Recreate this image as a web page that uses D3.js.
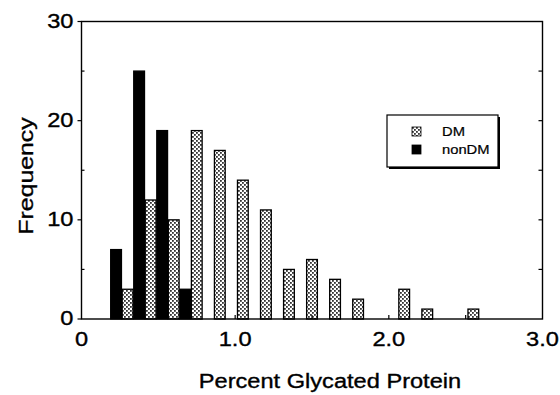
<!DOCTYPE html>
<html>
<head>
<meta charset="utf-8">
<script src="https://cdn.jsdelivr.net/npm/d3@7"></script>
<style>
    body { margin: 0; background: #fff; }
    text { font-family: "Liberation Sans", Arial, Helvetica, sans-serif; fill: #000; stroke: #000; stroke-width: 0.35; }
    .frame { fill: none; stroke: #000; stroke-width: 1.4; }
    .tick { stroke: #000; stroke-width: 1.2; }
    .bar { stroke: #000; stroke-width: 1.3; }
</style>
</head>
<body>
<script>
//histogram of percent glycated protein, DM vs nonDM
(function (){

    //bin centers (DM bar position), nonDM bar sits half a bin to the left
    var binCenters = [0.30, 0.45, 0.60, 0.75, 0.90, 1.05, 1.20, 1.35, 1.50, 1.65, 1.80, 1.95, 2.10, 2.25, 2.40, 2.55];
    var dmCounts = [3, 12, 10, 19, 17, 14, 11, 5, 6, 4, 2, 0, 3, 1, 0, 1];
    var nonDmCounts = [7, 25, 19, 3, 0, 0, 0, 0, 0, 0, 0, 0, 0, 0, 0, 0];

    var xTickValues = [0, 1.0, 2.0, 3.0];
    var xTickLabels = ["0", "1.0", "2.0", "3.0"];
    var xMinorTicks = [0.5, 1.0, 1.5, 2.0, 2.5];
    var yTickValues = [0, 10, 20, 30];
    var yMinorTicks = [5, 15, 25];
    var legendNames = ["DM", "nonDM"];

    var width = 560,
        height = 395;

    var left = 81.5, right = 542.5, top = 21.5, bottom = 319;

    //the scanned lettering is a bit wider than the installed fonts
    var stretch = 1.18;

    var svg = d3.select("body")
        .append("svg")
        .attr("width", width)
        .attr("height", height);

    //stipple fill for the DM bars
    var defs = svg.append("defs");
    var pat = defs.append("pattern")
        .attr("id", "stipple")
        .attr("patternUnits", "userSpaceOnUse")
        .attr("width", 4)
        .attr("height", 4);
    pat.append("rect").attr("width", 4).attr("height", 4).attr("fill", "#fff");
    pat.append("rect").attr("x", 0).attr("y", 0).attr("width", 1.8).attr("height", 1.8).attr("fill", "#333");
    pat.append("rect").attr("x", 2).attr("y", 2).attr("width", 1.8).attr("height", 1.8).attr("fill", "#333");

    var x = d3.scaleLinear().domain([0, 3]).range([left, right]);
    var y = d3.scaleLinear().domain([0, 30]).range([bottom, top]);

    var halfBin = 0.075,
        barW = x(0.07) - x(0);

    //nonDM bars
    svg.selectAll(".nondm")
        .data(binCenters.filter(function(d, i){ return nonDmCounts[i] > 0; }))
        .enter()
        .append("rect")
        .attr("class", "bar nondm")
        .attr("x", function(d){ return x(d - halfBin) - barW / 2; })
        .attr("width", barW)
        .attr("y", function(d){ return y(nonDmCounts[binCenters.indexOf(d)]); })
        .attr("height", function(d){ return bottom - y(nonDmCounts[binCenters.indexOf(d)]); })
        .attr("fill", "#000");

    //DM bars
    svg.selectAll(".dm")
        .data(binCenters.filter(function(d, i){ return dmCounts[i] > 0; }))
        .enter()
        .append("rect")
        .attr("class", "bar dm")
        .attr("x", function(d){ return x(d) - barW / 2; })
        .attr("width", barW)
        .attr("y", function(d){ return y(dmCounts[binCenters.indexOf(d)]); })
        .attr("height", function(d){ return bottom - y(dmCounts[binCenters.indexOf(d)]); })
        .attr("fill", "url(#stipple)");

    //plot frame
    svg.append("rect")
        .attr("class", "frame")
        .attr("x", left)
        .attr("y", top)
        .attr("width", right - left)
        .attr("height", bottom - top);

    //y ticks: major outward, minor inward, right side inward
    svg.selectAll(".ymaj")
        .data(yTickValues)
        .enter()
        .append("line")
        .attr("class", "tick")
        .attr("x1", left - 4).attr("x2", left)
        .attr("y1", function(d){ return y(d); })
        .attr("y2", function(d){ return y(d); });

    svg.selectAll(".ymin")
        .data(yMinorTicks)
        .enter()
        .append("line")
        .attr("class", "tick")
        .attr("x1", left).attr("x2", left + 3)
        .attr("y1", function(d){ return y(d); })
        .attr("y2", function(d){ return y(d); });

    svg.selectAll(".yright")
        .data(yMinorTicks.concat([10, 20]))
        .enter()
        .append("line")
        .attr("class", "tick")
        .attr("x1", right - 4).attr("x2", right)
        .attr("y1", function(d){ return y(d); })
        .attr("y2", function(d){ return y(d); });

    //x ticks pointing up into the plot
    svg.selectAll(".xmin")
        .data(xMinorTicks)
        .enter()
        .append("line")
        .attr("class", "tick")
        .attr("x1", function(d){ return x(d); })
        .attr("x2", function(d){ return x(d); })
        .attr("y1", bottom).attr("y2", bottom - 4);

    //tick labels
    svg.selectAll(".ylab")
        .data(yTickValues)
        .enter()
        .append("text")
        .attr("class", "wide")
        .attr("x", left - 8)
        .attr("y", function(d){ return y(d) + 6; })
        .attr("text-anchor", "end")
        .style("font-size", "20px")
        .text(function(d){ return d; });

    svg.selectAll(".xlab")
        .data(xTickValues)
        .enter()
        .append("text")
        .attr("class", "wide")
        .attr("x", function(d){ return x(d); })
        .attr("y", 346)
        .attr("text-anchor", "middle")
        .style("font-size", "20px")
        .text(function(d, i){ return xTickLabels[i]; });

    //axis titles
    svg.append("text")
        .attr("class", "wide")
        .attr("x", 330)
        .attr("y", 388)
        .attr("text-anchor", "middle")
        .style("font-size", "20px")
        .text("Percent Glycated Protein");

    svg.append("text")
        .attr("class", "wide")
        .attr("transform", "translate(33,176) rotate(-90)")
        .attr("text-anchor", "middle")
        .style("font-size", "21px")
        .text("Frequency");

    //legend box with drop shadow
    var legend = svg.append("g").attr("transform", "translate(387,115)");
    legend.append("rect")
        .attr("x", 2).attr("y", 2)
        .attr("width", 111).attr("height", 52)
        .attr("fill", "#000");
    legend.append("rect")
        .attr("width", 111).attr("height", 52)
        .attr("fill", "#fff")
        .attr("stroke", "#000")
        .attr("stroke-width", 1.2);

    var items = legend.selectAll(".item")
        .data(legendNames)
        .enter()
        .append("g")
        .attr("transform", function(d, i){ return "translate(25," + (12 + i * 18) + ")"; });

    items.append("rect")
        .attr("width", 9)
        .attr("height", 9)
        .attr("stroke", "#000")
        .attr("stroke-width", 0.8)
        .attr("fill", function(d, i){ return i === 0 ? "url(#stipple)" : "#000"; });

    items.append("text")
        .attr("class", "wide")
        .attr("x", 30)
        .attr("y", 9)
        .style("font-size", "12.5px")
        .style("stroke-width", "0.2")
        .text(function(d){ return d; });

    //widen every label to match the reference lettering
    svg.selectAll("text.wide").each(function(){
        var len = this.getComputedTextLength();
        d3.select(this)
            .attr("textLength", len * stretch)
            .attr("lengthAdjust", "spacingAndGlyphs");
    });

})();
</script>
</body>
</html>
